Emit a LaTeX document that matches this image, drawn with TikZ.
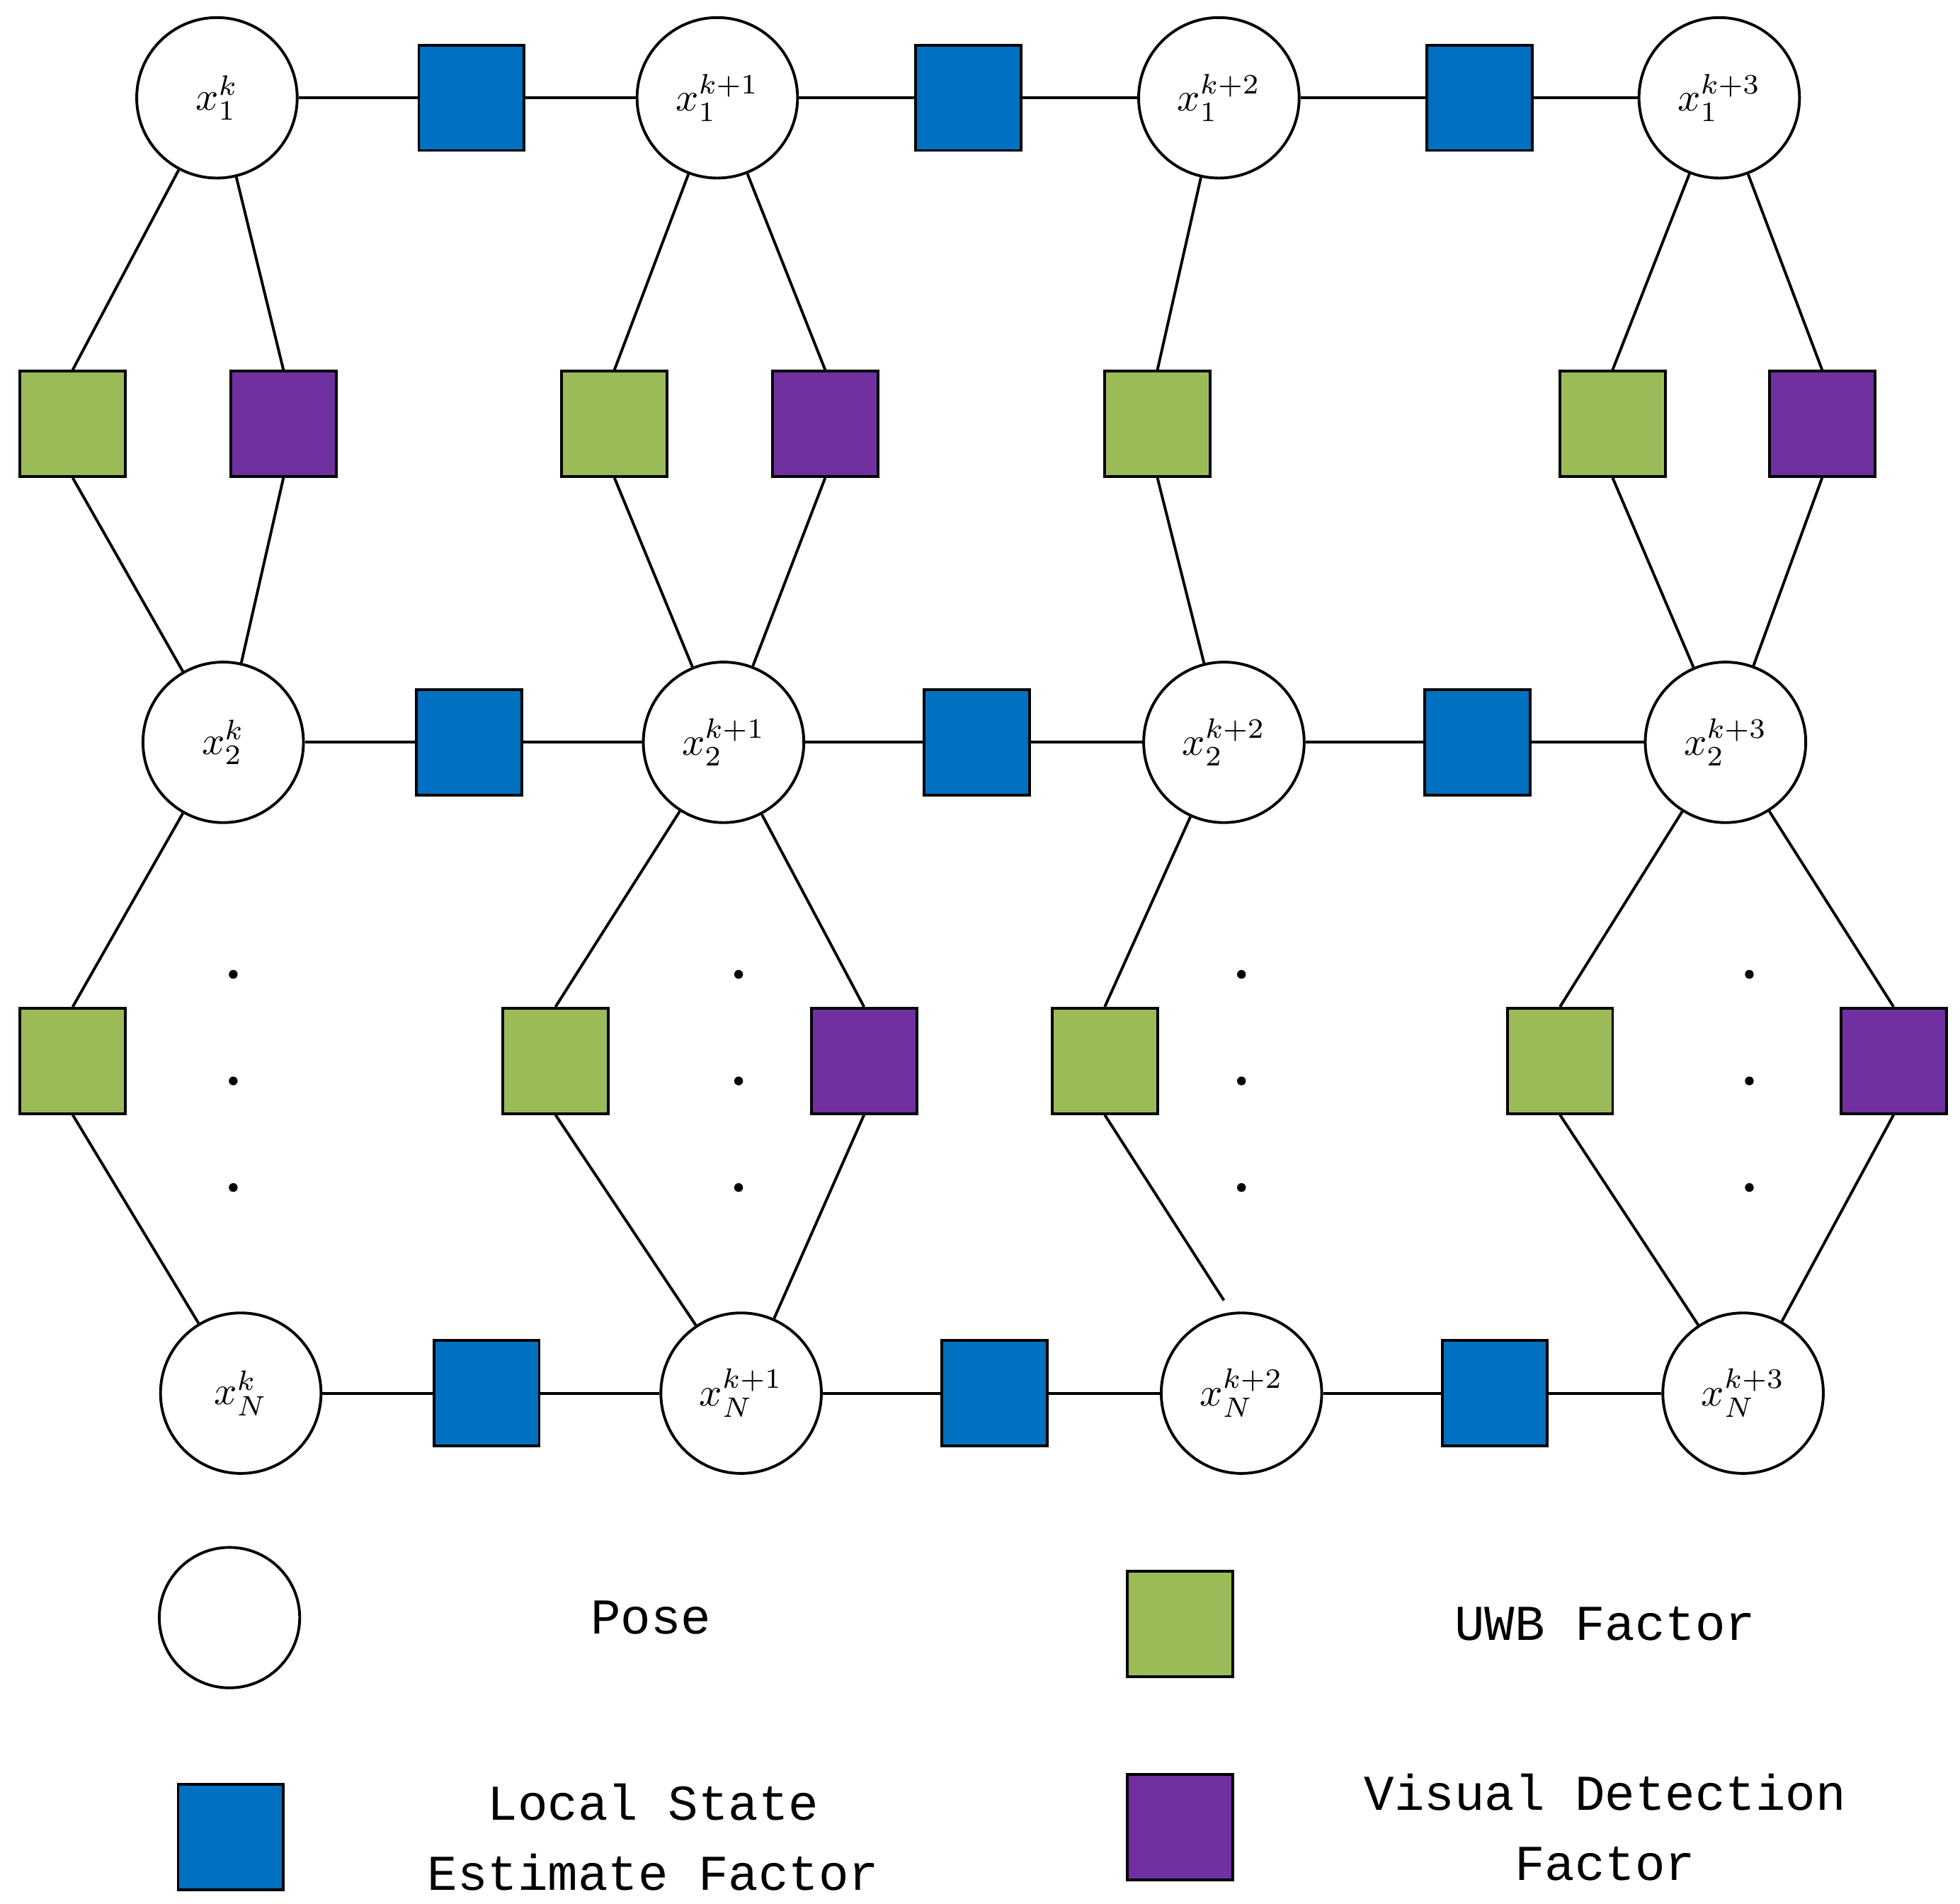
\documentclass[tikz,border=0pt]{standalone}
\usepackage{fontspec}
\setmonofont{Liberation Mono}
\newcommand{\pl}[1]{\scalebox{3.2}{$#1$}}
\begin{document}
\begin{tikzpicture}[x=1pt,y=-1pt,line width=2.2pt,
 pose/.style={circle,draw,fill=white,minimum size=128pt,inner sep=0pt},
 fac/.style={draw,minimum size=84pt,inner sep=0pt},
 bl/.style={fac,fill=blueF}, gr/.style={fac,fill=greenF}, pu/.style={fac,fill=purpleF},
 lg/.style={font=\fontsize{40}{56}\selectfont\ttfamily,align=center}]
\definecolor{blueF}{HTML}{0070C0}\definecolor{greenF}{HTML}{9BBB59}\definecolor{purpleF}{HTML}{7030A0}
\useasboundingbox (0,0) rectangle (1563,1518);
% poses
\foreach \n/\x/\s in {a/173/k,b/572/k+1,c/972/k+2,d/1371/k+3}{\node[pose] (r1\n) at (\x,78) {\pl{x_{1}^{\s}}};}
\foreach \n/\x/\s in {a/178/k,b/577/k+1,c/976/k+2,d/1376/k+3}{\node[pose] (r2\n) at (\x,592) {\pl{x_{2}^{\s}}};}
\foreach \n/\x/\s in {a/192/k,b/591/k+1,c/990/k+2,d/1390/k+3}{\node[pose] (r4\n) at (\x,1111) {\pl{x_{N}^{\s}}};}
% blue
\foreach \x/\p/\q [count=\i] in {376/r1a/r1b,772/r1b/r1c,1180/r1c/r1d}{\node[bl] (b1\i) at (\x,78) {};\draw (\p)--(b1\i)--(\q);}
\foreach \x/\p/\q [count=\i] in {374/r2a/r2b,779/r2b/r2c,1178/r2c/r2d}{\node[bl] (b2\i) at (\x,592) {};\draw (\p)--(b2\i)--(\q);}
\foreach \x/\p/\q [count=\i] in {388/r4a/r4b,793/r4b/r4c,1192/r4c/r4d}{\node[bl] (b4\i) at (\x,1111) {};\draw (\p)--(b4\i)--(\q);}
% upper factors
\foreach \x/\st/\p/\q [count=\i] in {58/gr/r1a/r2a,226/pu/r1a/r2a,490/gr/r1b/r2b,658/pu/r1b/r2b,923/gr/r1c/r2c,1286/gr/r1d/r2d,1453/pu/r1d/r2d}{
 \node[\st] (u\i) at (\x,338) {};\draw (\p)--(u\i.north);\draw (u\i.south)--(\q);}
% lower factors
\foreach \x/\st/\p/\q [count=\i] in {58/gr/r2a/r4a,443/gr/r2b/r4b,689/pu/r2b/r4b,1244/gr/r2d/r4d,1510/pu/r2d/r4d}{
 \node[\st] (l\i) at (\x,846) {};\draw (\p)--(l\i.north);\draw (l\i.south)--(\q);}
\node[gr] (l6) at (881,846) {};\coordinate (e6) at (976,1037);
\draw (r2c)--(l6.north);\draw (l6.south)--(e6);
% dots
\foreach \x in {186,589,990,1395}{\foreach \y in {777,862,947}{\fill (\x,\y) circle (3.5);}}
% legend
\node[pose,minimum size=112pt] (lp) at (183,1290) {};
\node[lg] (tp) at (519,1290) {Pose};
\node[gr] (lgF) at (941,1295) {};
\node[lg] (tg) at (1280,1295) {UWB Factor};
\node[bl] (lb) at (184,1465) {};
\node[lg] (tb) at (521,1465) {Local State\\Estimate Factor};
\node[pu] (lpu) at (941,1457) {};
\node[lg] (tpu) at (1280,1457) {Visual Detection\\Factor};
\end{tikzpicture}
\end{document}
